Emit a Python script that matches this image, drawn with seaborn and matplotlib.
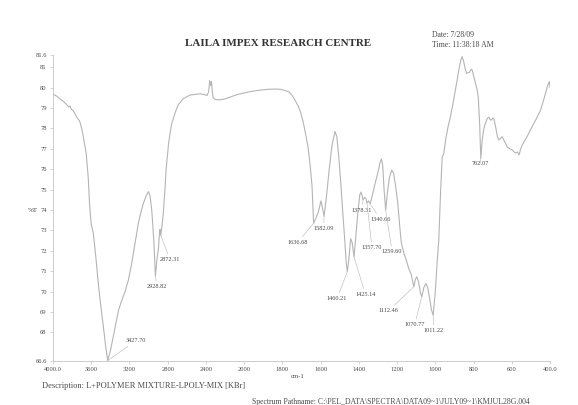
import numpy as np
import pandas as pd
import matplotlib
matplotlib.use("Agg")
import matplotlib.pyplot as plt
import seaborn as sns
from matplotlib.ticker import FixedLocator, FixedFormatter, NullLocator

# FT-IR spectrum (wavenumber in cm-1, transmittance in %T)
wavenumber = [
    4000, 3960, 3920, 3890, 3860, 3835, 3822, 3810, 3790, 3770, 3745, 3730, 3717,
    3700, 3683, 3668, 3654, 3640, 3630, 3620, 3613, 3600, 3578, 3550, 3526, 3500,
    3473, 3450, 3427.70, 3400, 3369, 3340, 3316, 3290, 3270, 3250, 3211, 3180,
    3159, 3130, 3107, 3080, 3054, 3025, 3002, 2985, 2967, 2955, 2942, 2928.82,
    2912, 2897, 2885, 2880, 2872.31, 2860, 2845, 2830, 2817, 2790, 2760, 2720,
    2691, 2640, 2565, 2500, 2461, 2420, 2387, 2372, 2360, 2350, 2342, 2333, 2325,
    2300, 2251, 2200, 2147, 2080, 2000, 1960, 1916, 1870, 1838, 1810, 1786, 1765,
    1749, 1735, 1718, 1705, 1692, 1680, 1666, 1655, 1645, 1636.68, 1625, 1612,
    1598, 1582.09, 1570, 1555, 1540, 1525, 1515, 1505, 1495, 1485, 1475, 1466,
    1460.21, 1452, 1443, 1435, 1425.14, 1415, 1405, 1395, 1389, 1383, 1378.31,
    1370, 1364, 1357.70, 1349, 1340.66, 1330, 1315, 1300, 1290, 1282, 1275, 1268,
    1259.60, 1250, 1240, 1228, 1218, 1208, 1196, 1187, 1178, 1165, 1152, 1138,
    1126, 1112.46, 1104, 1097, 1088, 1078, 1070.77, 1060, 1049, 1040, 1030, 1020,
    1011.22, 1000, 990, 982, 972, 964, 956, 945, 933, 921, 908, 895, 880, 868,
    860, 852, 843, 836, 822, 812, 807, 795, 781, 775, 768, 762.07, 755, 746, 738,
    728, 720, 714, 708, 700, 694, 685, 675, 668, 660, 650, 640, 624, 610, 597,
    588, 580, 570, 562, 553, 545, 520, 493, 470, 449, 430, 414, 404, 400,
]
transmittance = [
    79.68, 79.58, 79.42, 79.32, 79.18, 79.05, 79.10, 78.95, 78.88, 78.72, 78.50, 78.42, 78.30,
    78.00, 77.60, 77.20, 76.80, 76.10, 75.50, 74.50, 74.00, 73.30, 72.86, 71.60, 70.40, 69.30,
    68.28, 67.35, 66.62, 67.10, 67.80, 68.50, 69.05, 69.45, 69.70, 69.95, 70.57, 71.30,
    71.88, 72.70, 73.35, 73.90, 74.33, 74.70, 74.90, 74.70, 74.00, 73.20, 72.20, 70.77,
    71.60, 72.10, 72.95, 73.05, 72.75, 73.20, 73.90, 74.90, 75.96, 77.30, 78.20, 78.80,
    79.15, 79.45, 79.64, 79.68, 79.70, 79.66, 79.62, 79.80, 80.35, 80.10, 80.30, 79.80, 79.50,
    79.42, 79.40, 79.45, 79.54, 79.65, 79.74, 79.82, 79.88, 79.92, 79.93, 79.92, 79.86, 79.78,
    79.62, 79.40, 79.12, 78.80, 78.35, 77.80, 77.10, 76.20, 75.20, 73.35, 73.60, 73.90,
    74.45, 73.70, 74.60, 76.00, 77.20, 77.85, 77.60, 76.60, 75.40, 74.00, 72.70, 71.40,
    70.98, 71.60, 72.60, 72.40, 71.70, 72.80, 73.90, 74.75, 74.88, 74.70, 74.50,
    74.62, 74.58, 74.35, 74.45, 74.30, 74.70, 75.30, 75.85, 76.30, 76.50, 76.20, 75.00,
    74.00, 74.90, 75.60, 75.96, 75.80, 75.20, 74.30, 73.30, 72.40, 71.90, 71.55, 71.10,
    70.85, 70.24, 70.60, 70.73, 70.50, 69.95, 69.75, 70.20, 70.40, 70.20, 69.70, 69.10,
    68.85, 70.00, 71.50, 72.50, 75.00, 76.60, 76.75, 77.50, 78.10, 78.57, 79.20, 79.88, 80.70, 81.30,
    81.52, 81.30, 80.90, 80.70, 80.75, 80.90, 80.86, 80.40, 79.88, 79.50, 78.20, 76.54, 77.40, 78.00, 78.25,
    78.50, 78.55, 78.45, 78.40, 78.50, 78.50, 78.10, 77.60, 77.43, 77.50, 77.60, 77.40, 77.10, 77.00, 76.94,
    76.85, 76.80, 76.85, 76.70, 77.00, 77.20, 77.60, 78.10, 78.50, 78.90, 79.50, 80.05, 80.30, 80.00,
]

# Picked peaks and where their labels sit (wavenumber, %T of the label centre)
peak_wavenumbers = [3427.70, 2928.82, 2872.31, 1636.68, 1582.09, 1460.21, 1425.14,
                    1378.31, 1357.70, 1340.66, 1259.60, 1112.46, 1070.77, 1011.22, 762.07]
peak_label_wn = [3131, 2914, 2775, 1721, 1584, 1514, 1366,
                 1383, 1331, 1288, 1226, 1244, 1108, 1008, 764]
peak_label_t = [67.60, 70.24, 71.58, 72.42, 73.10, 69.67, 69.88,
                74.00, 72.15, 73.56, 71.96, 69.07, 68.37, 68.09, 76.29]

x_ticks = [4000, 3600, 3200, 2800, 2400, 2000, 1800, 1600, 1400, 1200, 1000, 800, 600, 400]
x_tick_labels = ["4000.0", "3600", "3200", "2800", "2400", "2000", "1800", "1600",
                 "1400", "1200", "1000", "800", "600", "400.0"]
y_ticks = [66.6, 68, 69, 70, 71, 72, 73, 74, 75, 76, 77, 78, 79, 80, 81, 81.6]
y_tick_labels = ["66.6", "68", "69", "70", "71", "72", "73", "74", "75", "76",
                 "77", "78", "79", "80", "81", "81.6"]

spectrum = pd.DataFrame({"cm-1": wavenumber, "%T": transmittance})

sns.set_theme(style="white")
plt.rcParams["font.family"] = ["Liberation Serif", "DejaVu Serif"]

W, H = 578, 405
fig = plt.figure(figsize=(W / 100, H / 100), dpi=100)
ax = fig.add_axes([53 / W, 44 / H, 497 / W, 306 / H])

line_color = "#b4b4b4"
text_color = "#4a4a4a"

sns.lineplot(data=spectrum, x="cm-1", y="%T", ax=ax, color=line_color,
             linewidth=0.8, sort=False, estimator=None)


# 4000-2000 cm-1 is drawn at half the scale of 2000-400 cm-1
def _fwd(w):
    w = np.asarray(w, dtype=float)
    return np.where(w >= 2000, 2000 + (w - 2000) / 2.0, w)


def _inv(u):
    u = np.asarray(u, dtype=float)
    return np.where(u >= 2000, 2000 + (u - 2000) * 2.0, u)


ax.set_xscale("function", functions=(_fwd, _inv))
ax.set_xlim(4000, 400)
ax.set_ylim(66.6, 81.6)

ax.xaxis.set_major_locator(FixedLocator(x_ticks))
ax.xaxis.set_major_formatter(FixedFormatter(x_tick_labels))
ax.xaxis.set_minor_locator(NullLocator())
ax.yaxis.set_major_locator(FixedLocator(y_ticks))
ax.yaxis.set_major_formatter(FixedFormatter(y_tick_labels))
ax.yaxis.set_minor_locator(NullLocator())

ax.set_xlabel("")
ax.set_ylabel("")
for side in ("top", "right"):
    ax.spines[side].set_visible(False)
for side in ("left", "bottom"):
    ax.spines[side].set_color("#c4c4c4")
    ax.spines[side].set_linewidth(0.6)

ax.tick_params(axis="both", which="major", direction="out", length=2.5, width=0.5,
               color="#c4c4c4", labelsize=4.7, labelcolor=text_color, pad=2,
               left=True, bottom=True)

# peak labels with leader lines
lookup = dict(zip(wavenumber, transmittance))
for pw, lw_, lt in zip(peak_wavenumbers, peak_label_wn, peak_label_t):
    ax.annotate(f"{pw:.2f}", xy=(pw, lookup[pw]), xytext=(lw_, lt),
                ha="center", va="center", fontsize=4.5, color=text_color,
                arrowprops=dict(arrowstyle="-", color="#bdbdbd", lw=0.45,
                                shrinkA=0, shrinkB=0))


def ftext(x, y, s, **kw):
    kw.setdefault("color", text_color)
    fig.text(x / W, 1 - y / H, s, **kw)


ftext(278, 43, "LAILA IMPEX RESEARCH CENTRE", ha="center", va="center",
      fontsize=7.9, fontweight="bold", color="#333333")
ftext(432, 35, "Date: 7/28/09", ha="left", va="center", fontsize=5.6)
ftext(432, 45, "Time: 11:38:18 AM", ha="left", va="center", fontsize=5.6)
ftext(33, 210, "%T", ha="center", va="center", fontsize=5.0)
ftext(298, 377, "cm-1", ha="center", va="center", fontsize=4.8)
ftext(42, 386, "Description: L+POLYMER MIXTURE-LPOLY-MIX [KBr]", ha="left",
      va="center", fontsize=6.0)
ftext(252, 402, r"Spectrum Pathname: C:\PEL_DATA\SPECTRA\DATA09~1\JULY09~1\KMJUL28G.004",
      ha="left", va="center", fontsize=5.6)

fig.savefig("out.png", dpi=100, facecolor="white")
